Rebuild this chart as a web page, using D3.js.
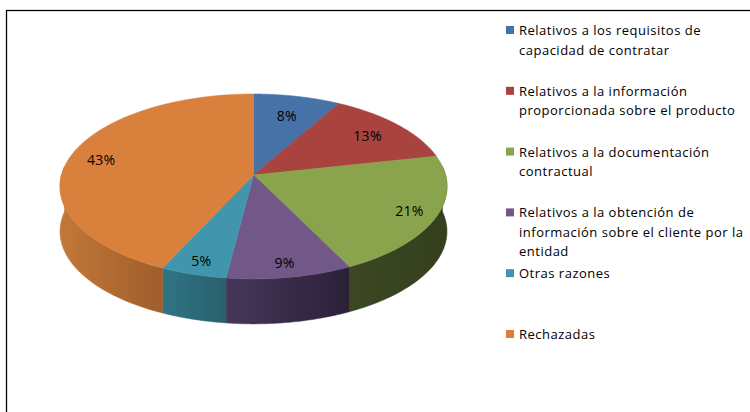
<!DOCTYPE html>
<html><head><meta charset="utf-8">
<script src="https://cdn.jsdelivr.net/npm/d3@7"></script>
<style>
html,body{margin:0;padding:0;background:#fff;}
svg{display:block;}
text{font-family:"Open Sans",sans-serif;}
</style></head>
<body>
<svg id="c" width="750" height="412"></svg>
<script>
// ---- data ----
const categories = [
  "Relativos a los requisitos de capacidad de contratar",
  "Relativos a la información proporcionada sobre el producto",
  "Relativos a la documentación contractual",
  "Relativos a la obtención de información sobre el cliente por la entidad",
  "Otras razones",
  "Rechazadas"
];
const legendLines = [
  ["Relativos a los requisitos de", "capacidad de contratar"],
  ["Relativos a la información", "proporcionada sobre el producto"],
  ["Relativos a la documentación", "contractual"],
  ["Relativos a la obtención de", "información sobre el cliente por la", "entidad"],
  ["Otras razones"],
  ["Rechazadas"]
];
const values = [8.2, 13.4, 21.1, 9.3, 4.9, 43.1];
const valueLabels = ["8%", "13%", "21%", "9%", "5%", "43%"];

// ---- styles ----
const topColors  = ["#4672a8", "#a8433f", "#89a44c", "#715889", "#4196ae", "#d9813c"];
const sideLeft   = ["#3a5f8c", "#8a3634", "#3c4822", "#46375a", "#307585", "#c27838"];
const sideRight  = ["#2e4b70", "#6e2a29", "#343f1d", "#2b2038", "#295f6d", "#9f5e2c"];
const legendColors = topColors;

const svg = d3.select("#c");

// frame
svg.append("rect").attr("x", 6.5).attr("y", 10.5).attr("width", 800).attr("height", 500)
  .attr("fill", "#fff").attr("stroke", "#000").attr("stroke-width", 1.3);

// ---- pie geometry ----
const cx = 253.5, cy = 175, RX = 192, RY = 91, K = 0.124, H = 45;
const pie = d3.pie().sort(null).value(d => d)(values);

function proj(theta, r, z) {
  const u = r * Math.sin(theta), v = r * Math.cos(theta);
  const d = 1 + K * v;
  return [cx + RX * u / d, cy - RY * v / d + H * z];
}
function arcPts(a0, a1, r, z, n) {
  const pts = [];
  for (let i = 0; i <= n; i++) pts.push(proj(a0 + (a1 - a0) * i / n, r, z));
  return pts;
}
const line = d3.line();
const defs = svg.append("defs");

// side walls (front half only)
const lo = Math.PI * 0.47, hi = Math.PI * 1.53;
const sides = svg.append("g");
pie.forEach((p, i) => {
  const a0 = Math.max(p.startAngle, lo), a1 = Math.min(p.endAngle, hi);
  if (a1 <= a0) return;
  const top = arcPts(a0, a1, 1, 0, 60);
  const bot = arcPts(a0, a1, 1, 1, 60).reverse();
  const xs = top.map(q => q[0]);
  const gid = "g" + i;
  const g = defs.append("linearGradient").attr("id", gid).attr("gradientUnits", "userSpaceOnUse")
    .attr("x1", d3.min(xs)).attr("x2", d3.max(xs)).attr("y1", 0).attr("y2", 0);
  g.append("stop").attr("offset", 0).attr("stop-color", sideLeft[i]);
  g.append("stop").attr("offset", 1).attr("stop-color", sideRight[i]);
  sides.append("path").attr("d", line(top.concat(bot)) + "Z").attr("fill", `url(#${gid})`)
    .attr("stroke", `url(#${gid})`).attr("stroke-width", 0.5);
});

// top faces
const tops = svg.append("g");
pie.forEach((p, i) => {
  const pts = [proj(0, 0, 0)].concat(arcPts(p.startAngle, p.endAngle, 1, 0, 80));
  tops.append("path").attr("d", line(pts) + "Z").attr("fill", topColors[i])
    .attr("stroke", topColors[i]).attr("stroke-width", 0.6);
});

// data labels
const labelR = [0.74, 0.78, 0.86, 0.87, 0.88, 0.83];
svg.append("g").selectAll("text").data(pie).join("text")
  .attr("x", (p, i) => proj((p.startAngle + p.endAngle) / 2, labelR[i], 0)[0])
  .attr("y", (p, i) => proj((p.startAngle + p.endAngle) / 2, labelR[i], 0)[1])
  .attr("text-anchor", "middle").attr("dominant-baseline", "central")
  .attr("font-size", 14).attr("letter-spacing", 0.3).attr("fill", "#000")
  .text((p, i) => valueLabels[i]);

// legend
const legY = d3.scaleLinear().domain([0, categories.length - 1]).range([30, 334]);
const leg = svg.append("g");
legendLines.forEach((lines, i) => {
  const y0 = legY(i);
  leg.append("rect").attr("x", 506).attr("y", y0 - 4).attr("width", 8).attr("height", 8)
    .attr("fill", legendColors[i]);
  lines.forEach((t, j) => {
    leg.append("text").attr("x", 519).attr("y", y0 + j * 19.5)
      .attr("dominant-baseline", "central").attr("font-size", 13).attr("letter-spacing", 0.5)
      .attr("fill", "#000").text(t);
  });
});
</script>
</body></html>
